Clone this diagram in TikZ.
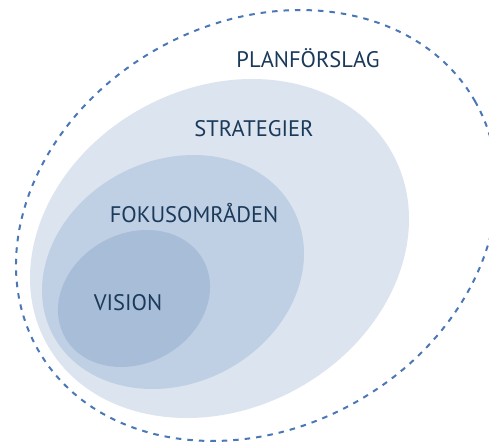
\documentclass[tikz,border=0pt]{standalone}
\usepackage{fontspec}
\setmainfont{PT Sans}
\definecolor{cA}{HTML}{DCE4EF}
\definecolor{cB}{HTML}{C0D0E4}
\definecolor{cC}{HTML}{A8BDD8}
\definecolor{txt}{HTML}{1B3A5A}
\definecolor{dash}{HTML}{4A77B6}
\tikzset{
  lbl/.style={text=txt, font=\fontsize{22.5}{24}\selectfont, inner sep=0pt},
  outline/.style={draw=dash, line width=2pt, dash pattern=on 5.5pt off 6pt}
}
\begin{document}
\begin{tikzpicture}[x=1pt,y=-1pt]
\useasboundingbox (0,0) rectangle (489,441);
\clip (0,0) rectangle (489,441);
\fill[white] (0,0) rectangle (489,441);
% strategier
\fill[cA, rotate around={28.6:(219.5,248.5)}] (219.5,248.5) ellipse [x radius=197.3pt, y radius=160.3pt];
% fokus
\fill[cB, rotate around={27.1:(173,272)}] (173,272) ellipse [x radius=135.6pt, y radius=111.6pt];
% vision
\fill[cC, rotate around={29.2:(134,298.5)}] (134,298.5) ellipse [x radius=79.2pt, y radius=64.8pt];
% planforslag outline
\draw[outline, rotate around={29.5:(256.5,225.5)}] (256.5,225.5) ellipse [x radius=251.4pt, y radius=202.6pt];
\node[lbl] (plan) at (308,58) {PLANFÖRSLAG};
\node[lbl] (strat) at (254,129) {STRATEGIER};
\node[lbl] (fokus) at (194,213) {FOKUSOMRÅDEN};
\node[lbl] (vision) at (128,303) {VISION};
\end{tikzpicture}
\end{document}
